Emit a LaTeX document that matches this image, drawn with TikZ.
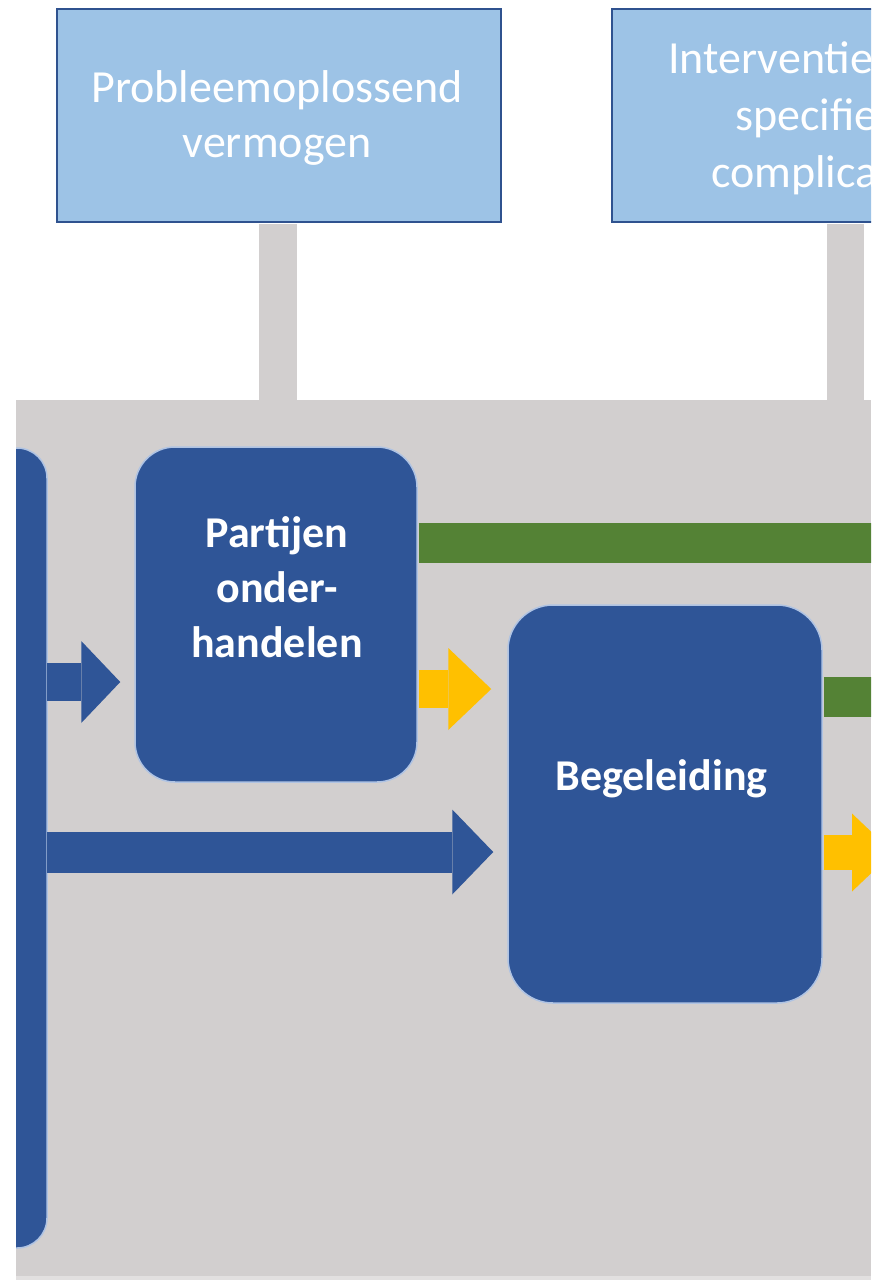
\documentclass[tikz,border=0pt]{standalone}
\usepackage{fontspec}
\setmainfont{Carlito}
\usetikzlibrary{arrows.meta}
\definecolor{lightblue}{HTML}{9DC3E6}
\definecolor{boxedge}{HTML}{2F528F}
\definecolor{darkblue}{HTML}{2F5597}
\definecolor{panelgray}{HTML}{D2CFCF}
\definecolor{stripgray}{HTML}{E2E0E0}
\definecolor{greenbar}{HTML}{548235}
\definecolor{yellowarrow}{HTML}{FFC000}
\definecolor{halo}{HTML}{AFC3E3}
\begin{document}
\begin{tikzpicture}[x=1pt,y=-1pt,
  topbox/.style={draw=boxedge,line width=2pt,fill=lightblue,minimum width=444pt,minimum height=213pt,inner sep=0pt},
  darkbox/.style={draw=halo,line width=1.5pt,fill=darkblue,inner sep=0pt},
  graybar/.style={draw=panelgray,line width=#1},
  lighttxt/.style={text=white,font=\fontsize{46}{55}\selectfont,inner sep=0pt},
  boldtxt/.style={text=white,font=\fontsize{44}{55}\selectfont\bfseries,inner sep=0pt,anchor=base},
  flow/.style n args={4}{draw=#1,line width=#2,-{Triangle[length=#3,width=#4,line width=0pt]}},
  bar/.style={draw=greenbar,line width=40pt}]
\clip (0,0) rectangle (871,1280);
\fill[white] (0,0) rectangle (871,1280);
% grey panel
\node[fill=panelgray,minimum width=855pt,minimum height=876pt,inner sep=0pt,anchor=north west] (panel) at (16,400) {};
\fill[stripgray] (16,1276) rectangle (871,1280);
% top boxes
\coordinate (lbar) at (278,0);
\coordinate (rbar) at (845.5,0);
\node[topbox] (tl) at (279,115.5) {};
\node[topbox] (tr) at (834,115.5) {};
\draw[graybar=38pt] ([yshift=-1pt]tl.south -| lbar) -- ([yshift=-3pt]panel.north -| lbar);
\draw[graybar=37pt] ([yshift=-1pt]tr.south -| rbar) -- ([yshift=-3pt]panel.north -| rbar);
\node[lighttxt,anchor=base] (tl1) at (277,102) {Probleemoplossend};
\node[lighttxt,anchor=base] (tl2) at (277,157) {vermogen};
\node[lighttxt,anchor=base west] (tr1) at (668,73) {Interventie};
\node[lighttxt,anchor=base west] (tr2) at (735,130) {specifie};
\node[lighttxt,anchor=base west] (tr3) at (711,187) {complica};
% connector coordinates
\coordinate (a1) at (0,682);
\coordinate (a2) at (0,852);
\coordinate (a3) at (0,689);
\coordinate (a4) at (893,852.5);
\coordinate (g1) at (890,543);
\coordinate (g2) at (890,697);
% dark boxes
\begin{scope}
\clip (16,0) rectangle (871,1280);
\node[darkbox,rounded corners=30pt,minimum width=97pt,minimum height=800pt] (lb) at (-1.5,848) {};
\end{scope}
\node[darkbox,rounded corners=40pt,minimum width=282pt,minimum height=335pt] (pb) at (276,614.5) {};
\node[darkbox,rounded corners=45pt,minimum width=314pt,minimum height=398pt] (bg) at (665,804) {};
% connectors
\draw[flow={darkblue}{38pt}{39pt}{82pt}] ([xshift=-1pt]lb.east |- a1) -- ([xshift=-14pt]pb.west |- a1);
\draw[flow={darkblue}{41pt}{41pt}{85pt}] ([xshift=-1pt]lb.east |- a2) -- ([xshift=-14pt]bg.west |- a2);
\draw[flow={yellowarrow}{38pt}{43pt}{82pt}] ([xshift=1pt]pb.east |- a3) -- ([xshift=-16pt]bg.west |- a3);
\draw[flow={yellowarrow}{35pt}{41pt}{78pt}] ([xshift=1pt]bg.east |- a4) -- (a4);
\draw[bar] ([xshift=1pt]pb.east |- g1) -- (g1);
\draw[bar] ([xshift=1pt]bg.east |- g2) -- (g2);
\node[boldtxt] (p1) at (277,547) {Partijen};
\node[boldtxt] (p2) at (277,602) {onder-};
\node[boldtxt] (p3) at (277,657) {handelen};
\node[boldtxt] (b1) at (661.5,790) {Begeleiding};
\end{tikzpicture}
\end{document}
